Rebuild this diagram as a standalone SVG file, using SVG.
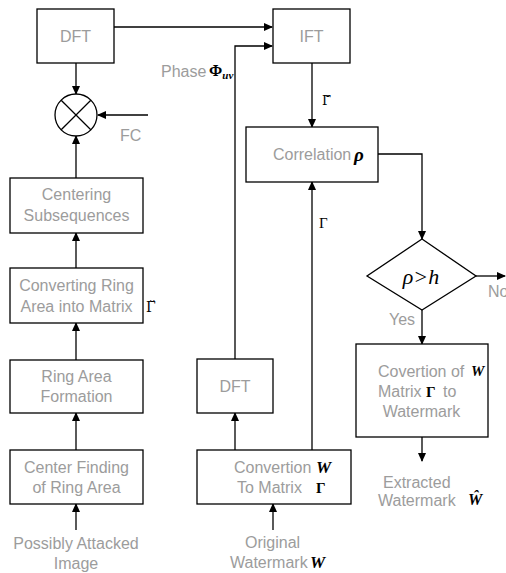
<svg xmlns="http://www.w3.org/2000/svg" width="506" height="573" viewBox="0 0 506 573">
<style>
.box{fill:#fff;stroke:#000;stroke-width:1.3}
.ln{fill:none;stroke:#000;stroke-width:1.3}
.t{font-family:"Liberation Sans",Arial,sans-serif;font-size:16px;fill:#9c9c9c}
.m{font-family:"Liberation Serif","Times New Roman",serif;fill:#000}
.b{font-family:"DejaVu Serif",serif;fill:#000}
.c{text-anchor:middle}
</style>
<defs>
<marker id="ah" markerUnits="userSpaceOnUse" markerWidth="9" markerHeight="8" refX="8" refY="4" orient="auto">
<path d="M0,0 L9,4 L0,8 z" fill="#000"/>
</marker>
</defs>
<rect width="506" height="573" fill="#fff"/>
<g id="connectors">
<line class="ln" x1="114" y1="27" x2="272" y2="27" marker-end="url(#ah)"/>
<polyline class="ln" points="235,359 235,46 272,46" marker-end="url(#ah)"/>
<line class="ln" x1="76" y1="63" x2="76" y2="94" marker-end="url(#ah)"/>
<line class="ln" x1="148" y1="115" x2="98" y2="115" marker-end="url(#ah)"/>
<line class="ln" x1="76" y1="178" x2="76" y2="136" marker-end="url(#ah)"/>
<line class="ln" x1="76" y1="268" x2="76" y2="233" marker-end="url(#ah)"/>
<line class="ln" x1="76" y1="360" x2="76" y2="323" marker-end="url(#ah)"/>
<line class="ln" x1="76" y1="450" x2="76" y2="413" marker-end="url(#ah)"/>
<line class="ln" x1="76" y1="530" x2="76" y2="504" marker-end="url(#ah)"/>
<line class="ln" x1="312" y1="63" x2="312" y2="127" marker-end="url(#ah)"/>
<polyline class="ln" points="378,154 422,154 422,239" marker-end="url(#ah)"/>
<line class="ln" x1="476" y1="276" x2="505" y2="276" marker-end="url(#ah)"/>
<line class="ln" x1="422" y1="310" x2="422" y2="344" marker-end="url(#ah)"/>
<line class="ln" x1="422" y1="437" x2="422" y2="461" marker-end="url(#ah)"/>
<line class="ln" x1="235" y1="450" x2="235" y2="413" marker-end="url(#ah)"/>
<line class="ln" x1="312" y1="450" x2="312" y2="182" marker-end="url(#ah)"/>
<line class="ln" x1="273" y1="530" x2="273" y2="504" marker-end="url(#ah)"/>
</g>
<g id="dft1"><rect class="box" x="37" y="9" width="77" height="54"/><text class="t c" x="75.5" y="42">DFT</text></g>
<g id="ift"><rect class="box" x="273" y="9" width="77" height="54"/><text class="t c" x="311.5" y="42">IFT</text></g>
<g id="mult"><circle class="box" cx="76" cy="115" r="21"/><path class="ln" d="M61.2,100.2 L90.8,129.8 M90.8,100.2 L61.2,129.8"/></g>
<g id="fc-label"><text class="t" x="120" y="141">FC</text></g>
<g id="phase-label"><text class="t" x="161" y="77">Phase</text><text class="m" x="209" y="76" font-size="16" font-weight="bold">Φ<tspan font-style="italic" font-size="11" dy="3">uv</tspan></text></g>
<g id="centering"><rect class="box" x="10" y="178" width="133" height="55"/><text class="t c" x="76.5" y="200">Centering</text><text class="t c" x="76.5" y="221">Subsequences</text></g>
<g id="converting"><rect class="box" x="10" y="268" width="133" height="55"/><text class="t c" x="76.5" y="291">Converting Ring</text><text class="t c" x="76.5" y="312">Area into Matrix</text><text class="b" x="146" y="312" font-size="14">Γ̆</text></g>
<g id="ringarea"><rect class="box" x="10" y="360" width="133" height="53"/><text class="t c" x="76.5" y="382">Ring Area</text><text class="t c" x="76.5" y="402">Formation</text></g>
<g id="centerfinding"><rect class="box" x="10" y="450" width="133" height="54"/><text class="t c" x="76.5" y="473">Center Finding</text><text class="t c" x="76.5" y="493">of Ring Area</text></g>
<g id="input-image"><text class="t c" x="76" y="549">Possibly Attacked</text><text class="t c" x="76" y="569">Image</text></g>
<g id="correlation"><rect class="box" x="246" y="127" width="132" height="55"/><text class="t" x="273" y="160">Correlation</text><text class="m" x="354" y="161" font-size="19" font-weight="bold" font-style="italic">ρ</text></g>
<g id="gamma-breve-label"><text class="b" x="322" y="105" font-size="13">Γ̆</text></g>
<g id="gamma-label"><text class="m" x="319" y="228" font-size="15">Γ</text></g>
<g id="decision"><polygon class="box" points="422,239 476,276 422,310 367,276"/><text class="m c" x="421" y="284" font-size="22" font-style="italic">ρ&gt;h</text></g>
<g id="no-label"><text class="t" x="488" y="297">No</text></g>
<g id="yes-label"><text class="t" x="389" y="325">Yes</text></g>
<g id="covertion"><rect class="box" x="356" y="344" width="132" height="93"/><text class="t" x="378" y="377">Covertion of</text><text class="m" x="471" y="376" font-size="15" font-weight="bold" font-style="italic">W</text><text class="t" x="378" y="397">Matrix</text><text class="m" x="426" y="397" font-size="15" font-weight="bold">Γ</text><text class="t" x="443" y="397">to</text><text class="t c" x="421.5" y="417">Watermark</text></g>
<g id="extracted"><text class="t" x="383" y="488">Extracted</text><text class="t" x="378" y="506">Watermark</text><text class="m" x="468" y="505" font-size="16" font-weight="bold" font-style="italic">Ŵ</text></g>
<g id="dft2"><rect class="box" x="197" y="359" width="76" height="54"/><text class="t c" x="235" y="392">DFT</text></g>
<g id="convertion"><rect class="box" x="197" y="450" width="154" height="54"/><text class="t" x="234" y="473">Convertion</text><text class="m" x="316" y="473" font-size="17" font-weight="bold" font-style="italic">W</text><text class="t" x="237" y="493">To Matrix</text><text class="m" x="316" y="493" font-size="15" font-weight="bold">Γ</text></g>
<g id="original"><text class="t" x="245" y="548">Original</text><text class="t" x="230" y="568">Watermark</text><text class="m" x="310" y="568" font-size="17" font-weight="bold" font-style="italic">W</text></g>
</svg>
